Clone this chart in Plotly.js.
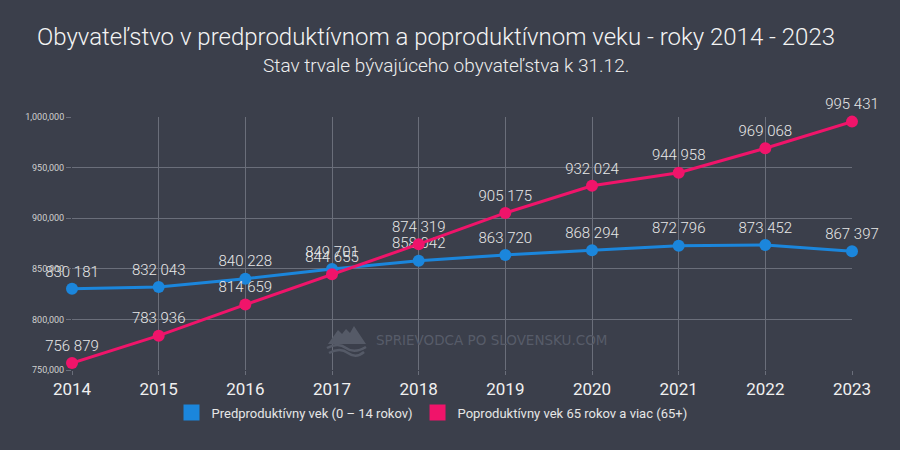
<!DOCTYPE html>
<html>
<head>
<meta charset="utf-8">
<script src="https://cdn.plot.ly/plotly-3.0.1.min.js"></script>
<style>html,body{margin:0;padding:0;background:#3b3f4b;}#chart{width:900px;height:450px;}</style>
</head>
<body>
<div id="chart"></div>
<script>
const years = ['2014','2015','2016','2017','2018','2019','2020','2021','2022','2023'];
const preproductive = [830181, 832043, 840228, 849701, 858042, 863720, 868294, 872796, 873452, 867397];
const postproductive = [756879, 783936, 814659, 844655, 874319, 905175, 932024, 944958, 969068, 995431];
const seriesNames = ['Predproduktívny vek (0 – 14 rokov)', 'Poproduktívny vek 65 rokov a viac (65+)'];
const yTicks = [750000, 800000, 850000, 900000, 950000, 1000000];

const fmt = v => String(v).replace(/\B(?=(\d{3})+(?!\d))/g, ' ');
const blue = '#1b86dc';
const pink = '#f0146a';
const grid = '#6a6e7a';
const labelFont = {family: 'Roboto', size: 15, weight: 300, color: '#e8e8e8'};

// pixel -> paper helpers for positioning decorations
const L = 72, T = 117, W = 780, H = 253;
const px = x => +((x - L) / W).toFixed(4);
const py = y => +((T + H - y) / H).toFixed(4);
const P = (x, y) => px(x) + ' ' + py(y);

const traces = [
  {x: years, y: preproductive, type: 'scatter', mode: 'lines+markers+text',
   text: preproductive.map(fmt), textposition: 'top center', textfont: labelFont,
   line: {color: blue, width: 3}, marker: {color: blue, size: 12}, showlegend: false, cliponaxis: false},
  {x: years, y: postproductive, type: 'scatter', mode: 'lines+markers+text',
   text: postproductive.map(fmt), textposition: 'top center', textfont: labelFont,
   line: {color: pink, width: 3}, marker: {color: pink, size: 12}, showlegend: false, cliponaxis: false},
  {x: [null], y: [null], type: 'scatter', mode: 'markers', name: seriesNames[0],
   marker: {symbol: 'square', color: blue, size: 17}},
  {x: [null], y: [null], type: 'scatter', mode: 'markers', name: seriesNames[1],
   marker: {symbol: 'square', color: pink, size: 17}}
];

const logoColor = '#555a67';
const layout = {
  width: 900, height: 450,
  paper_bgcolor: '#3b3f4b', plot_bgcolor: '#3b3f4b',
  margin: {l: 72, r: 48, t: 117, b: 80, autoexpand: false},
  font: {family: 'Roboto', color: '#e6e6e6'},
  xaxis: {type: 'category', range: [0, 9], showgrid: true, gridcolor: grid, gridwidth: 1,
    zeroline: false, showline: false, ticks: 'outside', ticklen: 4, tickcolor: grid,
    automargin: false,
    tickfont: {family: 'Roboto', size: 17, color: '#f0f0f0'}},
  yaxis: {range: [750000, 1000000], tickvals: yTicks, tickformat: ',d', showgrid: true,
    gridcolor: grid, gridwidth: 1, zeroline: false, showline: false,
    ticks: 'outside', ticklen: 5, tickcolor: grid, automargin: false,
    tickfont: {family: 'Roboto', size: 9, color: '#d0d0d0'}},
  showlegend: true,
  legend: {orientation: 'h', xref: 'container', yref: 'container', x: 0.48, xanchor: 'center',
    y: 0.083, yanchor: 'middle', itemwidth: 30,
    font: {family: 'Roboto', size: 13, color: '#e6e6e6'}, bgcolor: 'rgba(0,0,0,0)'},
  annotations: [
    {text: 'Obyvateľstvo v predproduktívnom a poproduktívnom veku - roky 2014 - 2023',
     xref: 'paper', yref: 'paper', x: px(436.5), y: py(37), yanchor: 'middle', xanchor: 'center',
     showarrow: false, font: {family: 'Roboto', size: 24, weight: 300, color: '#f4f4f4'}},
    {text: 'Stav trvale bývajúceho obyvateľstva k 31.12.',
     xref: 'paper', yref: 'paper', x: px(446), y: py(66), yanchor: 'middle', xanchor: 'center',
     showarrow: false, font: {family: 'Roboto', size: 19, weight: 300, color: '#eeeeee'}},
    {text: 'SPRIEVODCA PO SLOVENSKU.COM', xref: 'paper', yref: 'paper',
     x: px(374), y: py(340), xanchor: 'left', yanchor: 'middle', showarrow: false,
     font: {family: 'DejaVu Sans', stretch: 'condensed', size: 13.5, color: '#575c69'}}
  ],
  shapes: [
    {type: 'path', xref: 'paper', yref: 'paper', layer: 'above',
     path: 'M ' + P(328, 344) + ' L ' + P(338, 330) + ' L ' + P(342, 334) + ' L ' + P(346, 329) +
           ' L ' + P(350, 333) + ' L ' + P(354, 326) + ' L ' + P(366, 344) + ' Z',
     fillcolor: logoColor, line: {width: 0}},
    {type: 'path', xref: 'paper', yref: 'paper', layer: 'above',
     path: 'M ' + P(327, 348) + ' Q ' + P(338, 342) + ' ' + P(346, 348) + ' T ' + P(366, 347),
     line: {color: logoColor, width: 2.5}},
    {type: 'path', xref: 'paper', yref: 'paper', layer: 'above',
     path: 'M ' + P(329, 353) + ' Q ' + P(340, 347) + ' ' + P(348, 353) + ' T ' + P(364, 352),
     line: {color: logoColor, width: 2.5}}
  ]
};

Plotly.newPlot('chart', traces, layout, {displayModeBar: false, staticPlot: true});
</script>
</body>
</html>
